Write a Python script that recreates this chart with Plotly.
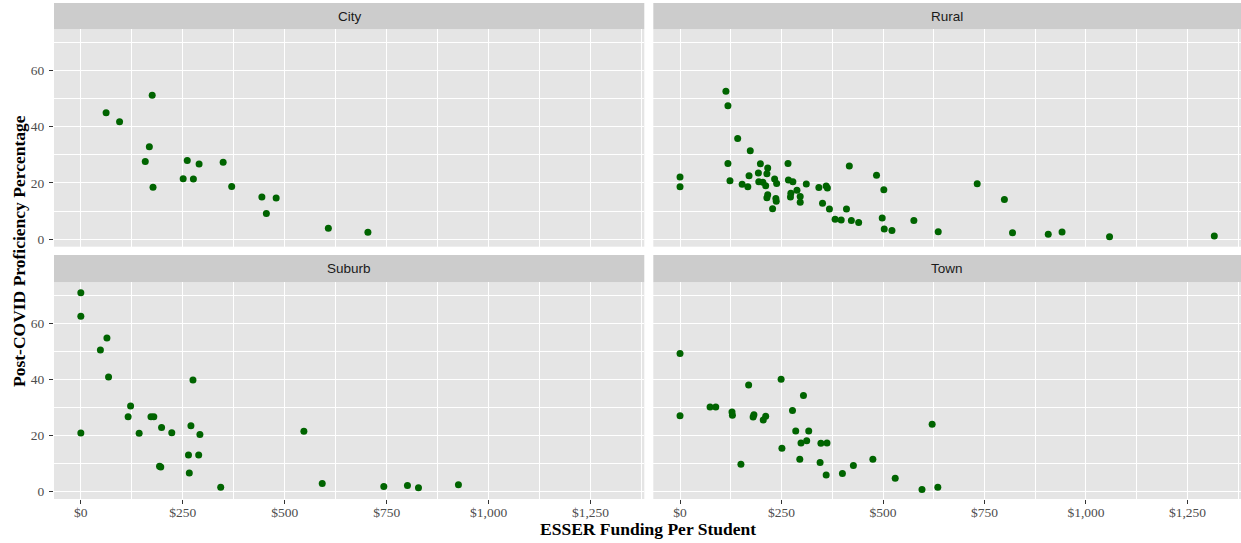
import plotly.graph_objects as go

# ESSER funding per student vs. post-COVID proficiency, by district locale
city_funding = [62, 95, 175, 168, 158, 177, 251, 276, 261, 290, 349, 370, 444, 479, 455, 607, 704]
city_prof = [45.0, 41.8, 51.2, 32.9, 27.6, 18.5, 21.5, 21.4, 28.0, 26.7, 27.4, 18.7, 15.0, 14.6, 9.1, 3.9, 2.4]

rural_funding = [0, 0, 113, 118, 142, 173, 118, 123, 153, 167, 170, 198, 193, 194, 204, 211, 216, 214,
                 233, 238, 216, 214, 236, 237, 228, 266, 267, 278, 288, 273, 272, 296, 296, 311, 342,
                 360, 363, 351, 368, 382, 397, 410, 417, 422, 440, 484, 502, 498, 503, 522, 576, 636,
                 732, 799, 819, 907, 941, 1058, 1316]
rural_prof = [22.1, 18.6, 52.6, 47.5, 35.8, 31.5, 26.9, 20.8, 19.5, 18.6, 22.6, 26.8, 23.5, 20.4, 20.2,
              19.0, 25.3, 23.3, 21.4, 19.8, 15.8, 14.7, 14.5, 13.5, 10.8, 26.9, 21.0, 20.4, 17.4, 16.3,
              15.0, 15.2, 13.1, 19.6, 18.4, 18.9, 18.2, 12.8, 10.7, 7.1, 6.8, 10.7, 26.0, 6.6, 5.9, 22.7,
              17.6, 7.5, 3.6, 3.1, 6.6, 2.6, 19.7, 14.1, 2.3, 1.7, 2.5, 0.8, 1.1]

suburb_funding = [0, 0, 0, 64, 48, 68, 122, 116, 172, 179, 143, 198, 223, 275, 270, 292, 264, 289,
                  193, 196, 266, 343, 547, 592, 743, 801, 828, 926]
suburb_prof = [71.0, 62.6, 20.9, 54.8, 50.5, 40.9, 30.5, 26.7, 26.7, 26.7, 20.8, 22.8, 21.0, 39.8, 23.5,
               20.3, 13.0, 13.0, 9.0, 8.7, 6.6, 1.5, 21.5, 2.8, 1.8, 2.1, 1.3, 2.4]

town_funding = [0, 0, 74, 88, 128, 129, 169, 182, 180, 205, 211, 249, 277, 304, 285, 317, 298, 312,
                347, 362, 251, 150, 295, 345, 360, 400, 427, 475, 530, 596, 635, 621]
town_prof = [49.3, 27.0, 30.2, 30.2, 28.4, 27.2, 38.0, 27.4, 26.6, 25.5, 26.9, 40.1, 28.9, 34.3, 21.6,
             21.6, 17.3, 18.1, 17.2, 17.3, 15.4, 9.7, 11.5, 10.3, 5.9, 6.4, 9.3, 11.5, 4.7, 0.7, 1.5, 24.0]

panels = [
    ("City", city_funding, city_prof),
    ("Rural", rural_funding, rural_prof),
    ("Suburb", suburb_funding, suburb_prof),
    ("Town", town_funding, town_prof),
]
x_ticks = [0, 250, 500, 750, 1000, 1250]
x_tick_labels = ["$0", "$250", "$500", "$750", "$1,000", "$1,250"]
y_ticks = [0, 20, 40, 60]

SERIF = "Liberation Serif"
SANS = "Liberation Sans"
PANEL_BG = "#E5E5E5"
STRIP_BG = "#CCCCCC"
POINT = "#006400"

x_range = [-65.8, 1381.8]
y_range = [-2.7, 74.7]

# panel geometry (paper fractions): columns and rows, plus strip bands above each row
col_dom = [[0.0, 0.4973], [0.5049, 1.0]]
row_dom = [[0.5087, 0.9470], [0.0, 0.4369]]
strip_dom = [[0.9470, 1.0], [0.4369, 0.4919]]

fig = go.Figure()
shapes = []
annotations = []

for i, (name, xs, ys) in enumerate(panels):
    r, c = divmod(i, 2)
    suffix = "" if i == 0 else str(i + 1)
    fig.add_trace(go.Scatter(
        x=xs, y=ys, mode="markers",
        marker=dict(color=POINT, size=7, line=dict(width=0)),
        xaxis="x" + suffix, yaxis="y" + suffix, showlegend=False,
        hoverinfo="x+y",
    ))
    bottom = r == 1
    left = c == 0
    fig.update_layout(**{
        "xaxis" + suffix: dict(
            domain=col_dom[c], anchor="y" + suffix, range=x_range,
            tickmode="array", tickvals=x_ticks, ticktext=x_tick_labels,
            showticklabels=bottom, ticks="outside" if bottom else "",
            ticklen=4, tickwidth=1.1, tickcolor="#333333", ticklabelstandoff=-3,
            tickfont=dict(family=SERIF, size=13.5, color="#4D4D4D"),
            showgrid=True, gridcolor="white", gridwidth=1.1,
            minor=dict(dtick=125, tick0=0, showgrid=True, gridcolor="white", gridwidth=0.5),
            zeroline=False, showline=False, fixedrange=True,
        ),
        "yaxis" + suffix: dict(
            domain=row_dom[r], anchor="x" + suffix, range=y_range,
            tickvals=y_ticks,
            showticklabels=left, ticks="outside" if left else "",
            ticklen=4, tickwidth=1.1, tickcolor="#333333", ticklabelstandoff=2,
            tickfont=dict(family=SERIF, size=13.5, color="#4D4D4D"),
            showgrid=True, gridcolor="white", gridwidth=1.1,
            minor=dict(dtick=10, tick0=0, showgrid=True, gridcolor="white", gridwidth=0.5),
            zeroline=False, showline=False, fixedrange=True,
        ),
    })
    # facet strip
    shapes.append(dict(
        type="rect", xref="paper", yref="paper",
        x0=col_dom[c][0], x1=col_dom[c][1], y0=strip_dom[r][0], y1=strip_dom[r][1],
        fillcolor=STRIP_BG, line=dict(width=0), layer="below",
    ))
    annotations.append(dict(
        text=name, xref="paper", yref="paper",
        x=(col_dom[c][0] + col_dom[c][1]) / 2, y=(strip_dom[r][0] + strip_dom[r][1]) / 2,
        xanchor="center", yanchor="middle", showarrow=False,
        font=dict(family=SANS, size=13.5, color="#1A1A1A"),
    ))

annotations.append(dict(
    text="<b>ESSER Funding Per Student</b>", xref="paper", yref="paper",
    x=0.5, y=-0.0605, xanchor="center", yanchor="middle", showarrow=False,
    font=dict(family=SERIF, size=17.5, color="black"),
))
annotations.append(dict(
    text="<b>Post-COVID Proficiency Percentage</b>", xref="paper", yref="paper",
    x=-0.0295, y=0.5, xanchor="center", yanchor="middle", showarrow=False,
    textangle=-90, font=dict(family=SERIF, size=17.5, color="black"),
))

fig.update_layout(
    width=1241, height=543,
    margin=dict(l=54, r=0, t=3, b=44),
    paper_bgcolor="white", plot_bgcolor=PANEL_BG,
    shapes=shapes, annotations=annotations,
    showlegend=False,
)

fig.write_html("out.html")
